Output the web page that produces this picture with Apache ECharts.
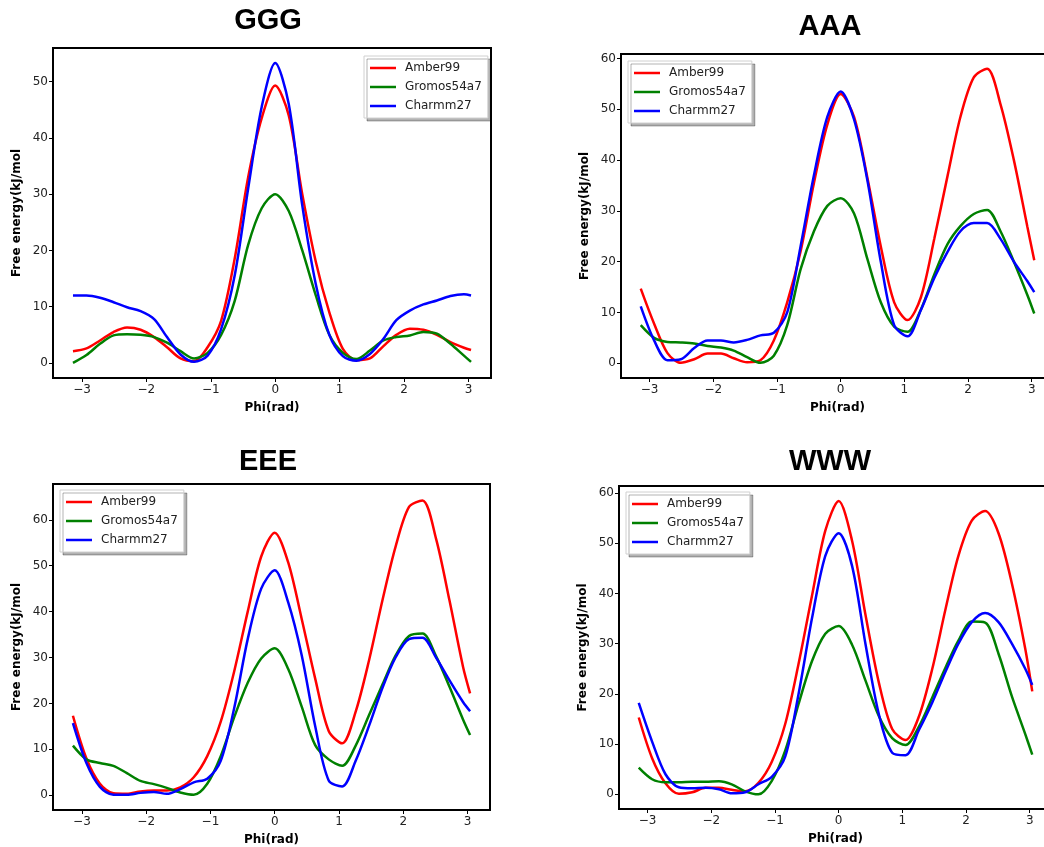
<!DOCTYPE html>
<html><head><meta charset="utf-8">
<script src="https://cdn.jsdelivr.net/npm/echarts@6/dist/echarts.min.js"></script>
<style>html,body{margin:0;padding:0;background:#fff;overflow:hidden;width:1044px;height:847px}#c{width:1070px;height:847px}</style>
</head><body><div id="c"></div>
<script>
// shared dihedral grid (rad)
const phi = [-3.14,-2.93,-2.72,-2.51,-2.30,-2.09,-1.88,-1.68,-1.47,-1.26,-1.05,-0.84,-0.63,-0.42,-0.21,0,0.21,0.42,0.63,0.84,1.05,1.26,1.47,1.68,1.88,2.09,2.30,2.51,2.72,2.93,3.04];
const seriesNames = ['Amber99','Gromos54a7','Charmm27'];
const panelTitles = ['GGG','AAA','EEE','WWW'];
const xTicks = [-3,-2,-1,0,1,2,3];
const yTicksGGG = [0,10,20,30,40,50];
const yTicksAAA = [0,10,20,30,40,50,60];
const yTicksEEE = [0,10,20,30,40,50,60];
const yTicksWWW = [0,10,20,30,40,50,60];

const gggAmber  = [2.1,2.6,4.0,5.5,6.3,5.9,4.6,2.8,0.8,0.3,2.8,7.5,18.5,33,43.5,49.3,44,30,18,9,2.5,0.5,0.8,3.0,5.0,6.1,5.9,5.0,3.7,2.7,2.3];
const gggGromos = [0,1.4,3.4,4.9,5.1,5.0,4.6,3.6,2.1,0.8,1.8,5,11,21,27.5,30,27,20,12,5,1.8,0.7,2.2,4.0,4.6,4.9,5.5,5.2,3.4,1.3,0.2];
const gggCharmm = [12.0,12.0,11.6,10.8,9.9,9.2,7.8,4.6,1.5,0.2,1.3,6,15.5,31,45.5,53.3,46,28,14,5,1.2,0.4,1.6,4.3,7.6,9.3,10.4,11.1,11.9,12.2,12.0];

const aaaAmber  = [14.7,7.8,2.0,0.1,0.8,1.9,1.9,1.0,0.2,0.6,4.5,12,22,35.5,47,53,48.5,36.5,23,12,8.5,13,24.5,37,48.5,56.3,58,51,40,27,20.3];
const aaaGromos = [7.5,5.0,4.2,4.1,3.9,3.4,3.1,2.5,1.2,0.1,1.5,7.5,18.5,26,31,32.5,29.5,20.5,12,7.2,6.2,10.6,17.5,23.5,27,29.4,30.2,26,20,13.5,9.8];
const aaaCharmm = [11.2,4.5,0.6,0.8,3.0,4.5,4.5,4.1,4.6,5.5,6.0,10,23,37,48.5,53.5,48,36,20,7.5,5.3,10.5,16.8,22,26,27.6,27.6,24.5,20,16.2,14];

const eeeAmber  = [17.3,8,2.5,0.4,0.3,0.8,1.0,1.0,1.7,3.9,8.5,16,27,40,52,57.2,50.7,38.4,25.4,14,11.3,18.2,29.5,42.7,54.1,62.8,64.2,55.9,42.4,28,22.2];
const eeeGromos = [10.8,7.8,7.0,6.4,4.8,3.1,2.4,1.6,0.6,0.1,2.5,8.5,17,24.5,29.8,32,27.5,19.3,10.9,7.8,6.4,10.8,17.5,24.2,30.4,34.7,35.2,30.3,23.6,16.5,13.1];
const eeeCharmm = [15.7,7,1.8,0.1,0.1,0.5,0.7,0.3,1.3,2.8,3.6,7.5,19,34,45,49,42,30.5,15,3.2,1.9,7.5,15.2,23.5,30,34,34.3,30,25,20.3,18.3];

const wwwAmber  = [15.3,7.2,2.2,0.1,0.4,1.3,1.3,0.9,0.6,2.3,6.5,14,26,39.5,52.5,58.4,50.5,35.8,22.3,13,10.8,15.5,25,37,47.5,54.5,56.4,52,42,29,20.5];
const wwwGromos = [5.3,3.0,2.4,2.4,2.5,2.5,2.6,2.0,0.6,0,2.7,8.7,18,26.5,32,33.5,29.8,22.7,15.6,11.2,9.8,13.5,19.3,25.3,30.6,34.4,34.2,28,19.5,12,7.9];
const wwwCharmm = [18.2,10.5,4,1.4,1.2,1.3,1.0,0.2,0.4,2.0,3.5,7.5,20,35,47.5,52,45.5,30,16,8.3,7.8,12.8,18.3,24.5,30,34.3,36.1,34.3,30,25,21.8];

const colors = ['#ff0000','#008000','#0000ff'];
const TXT = '#222';
const FONT = "'DejaVu Sans', sans-serif";

const panels = [
  {title: panelTitles[0], vals:[gggAmber,gggGromos,gggCharmm], yTicks:yTicksGGG, yMin:-2.67, yMax:55.97,
   grid:{left:53, top:48, width:438, height:330}, legend:{left:364, top:56}, tpos:[268,21]},
  {title: panelTitles[1], vals:[aaaAmber,aaaGromos,aaaCharmm], yTicks:yTicksAAA, yMin:-2.9, yMax:60.9,
   grid:{left:621, top:54, width:433, height:324}, legend:{left:628, top:61}, tpos:[830,27]},
  {title: panelTitles[2], vals:[eeeAmber,eeeGromos,eeeCharmm], yTicks:yTicksEEE, yMin:-3.23, yMax:67.8,
   grid:{left:53, top:484, width:437, height:326}, legend:{left:60, top:490}, tpos:[268,462]},
  {title: panelTitles[3], vals:[wwwAmber,wwwGromos,wwwCharmm], yTicks:yTicksWWW, yMin:-2.92, yMax:61.4,
   grid:{left:619, top:486, width:433, height:323}, legend:{left:626, top:492}, tpos:[830,462]}
];

const fmt = v => String(v).replace('-', '\u2212');

const option = {
  animation: false,
  backgroundColor: '#fff',
  grid: panels.map(p => Object.assign({show:true, borderColor:'#000', borderWidth:2, backgroundColor:'transparent', containLabel:false}, p.grid)),
  xAxis: panels.map((p,i) => ({
    gridIndex:i, type:'value', min:-3.45, max:3.35, position:'bottom',
    name:'Phi(rad)', nameLocation:'middle', nameGap:24,
    nameTextStyle:{fontFamily:FONT, fontWeight:'bold', fontSize:12, color:'#000'},
    axisLine:{show:false, onZero:false},
    axisTick:{show:true, length:4, lineStyle:{color:'#000', width:1}, customValues:xTicks},
    axisLabel:{customValues:xTicks, formatter:fmt, fontFamily:FONT, fontSize:12, color:TXT, margin:6},
    splitLine:{show:false}
  })),
  yAxis: panels.map((p,i) => ({
    gridIndex:i, type:'value', min:p.yMin, max:p.yMax, position:'left',
    name:'Free energy(kJ/mol', nameLocation:'middle', nameGap:30, nameRotate:90,
    nameTextStyle:{fontFamily:FONT, fontWeight:'bold', fontSize:12, color:'#000'},
    axisLine:{show:false, onZero:false},
    axisTick:{show:true, length:4, lineStyle:{color:'#000', width:1}, customValues:p.yTicks},
    axisLabel:{customValues:p.yTicks, formatter:fmt, fontFamily:FONT, fontSize:12, color:TXT, margin:5},
    splitLine:{show:false}
  })),
  legend: panels.map(p => ({
    data: seriesNames, left:p.legend.left, top:p.legend.top, orient:'vertical',
    icon:'rect', itemWidth:26, itemHeight:2.5, itemGap:5,
    padding:[5,6,5,6], backgroundColor:'#fff', borderColor:'#d0d0d0', borderWidth:1, borderRadius:0,
    shadowColor:'rgba(0,0,0,0.3)', shadowOffsetX:3, shadowOffsetY:3, shadowBlur:0,
    selectedMode:false,
    textStyle:{fontFamily:FONT, fontSize:12, color:TXT, padding:[0,0,0,4], lineHeight:14}
  })),
  graphic: panels.map(p => ({
    type:'text', x:p.tpos[0], y:p.tpos[1],
    style:{text:p.title, textAlign:'center', textVerticalAlign:'middle', fill:'#000',
      font:"bold 29px 'Liberation Sans', Arial, sans-serif"}
  })),
  series: []
};

panels.forEach((p,i) => {
  p.vals.forEach((vals,s) => {
    option.series.push({
      type:'line', name:seriesNames[s], xAxisIndex:i, yAxisIndex:i,
      data: phi.map((x,k) => [x, vals[k]]),
      showSymbol:false, symbol:'none', smooth:0.3, silent:true,
      lineStyle:{width:2.5, color:colors[s]}, itemStyle:{color:colors[s]}
    });
  });
});

const chart = echarts.init(document.getElementById('c'), null, {renderer:'canvas'});
chart.setOption(option);
</script>
</body></html>
